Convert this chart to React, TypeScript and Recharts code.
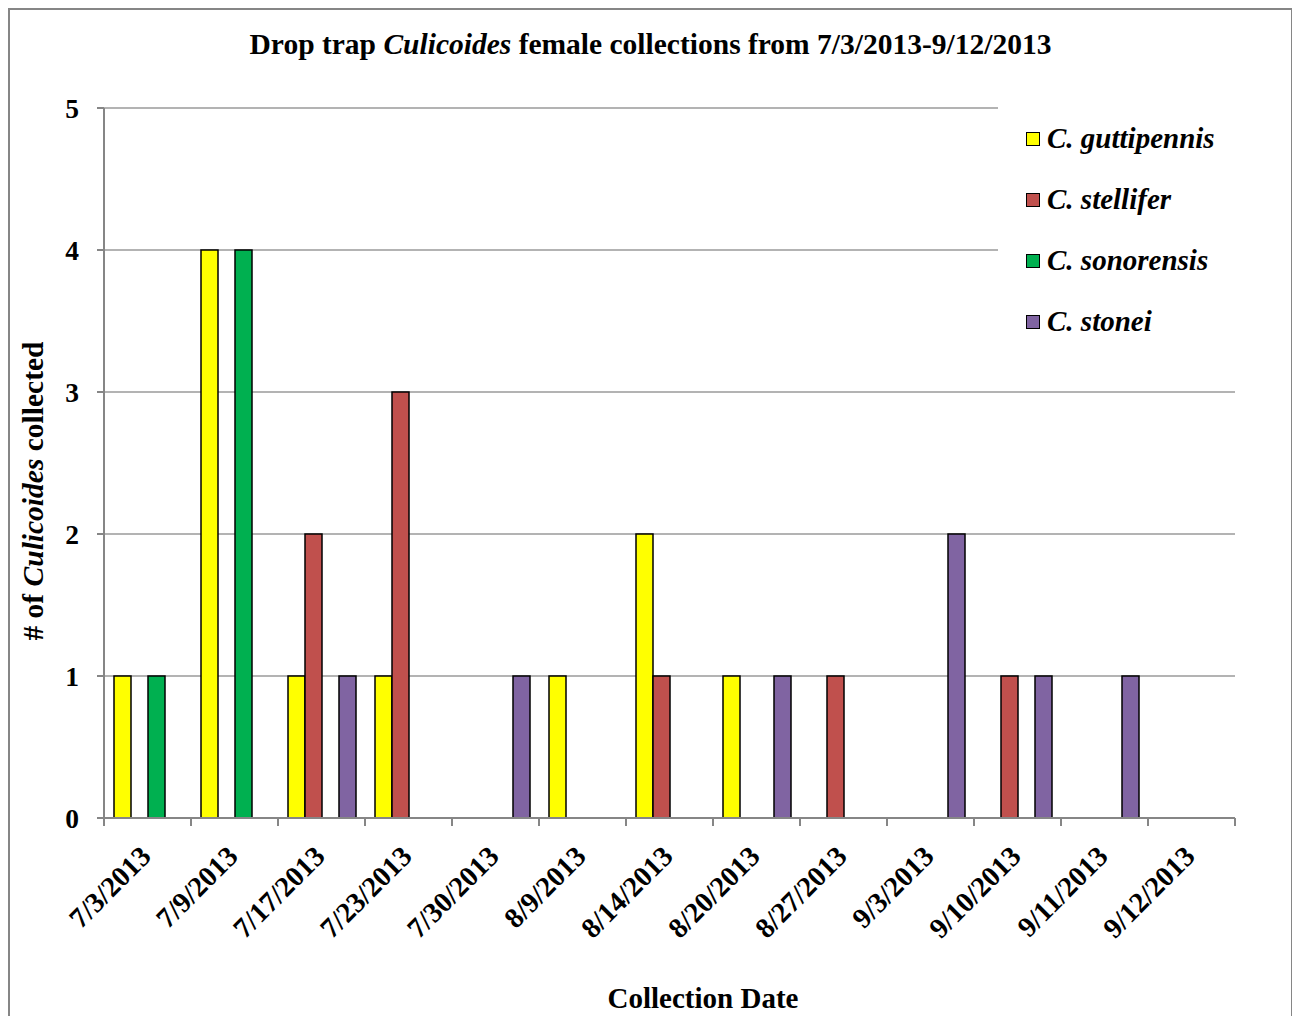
import { Bar, BarChart, CartesianGrid, XAxis, YAxis } from "recharts";

const DATES = [
  "7/3/2013",
  "7/9/2013",
  "7/17/2013",
  "7/23/2013",
  "7/30/2013",
  "8/9/2013",
  "8/14/2013",
  "8/20/2013",
  "8/27/2013",
  "9/3/2013",
  "9/10/2013",
  "9/11/2013",
  "9/12/2013",
];

const GUTTIPENNIS = [1, 4, 1, 1, 0, 1, 2, 1, 0, 0, 0, 0, 0];
const STELLIFER = [0, 0, 2, 3, 0, 0, 1, 0, 1, 0, 1, 0, 0];
const SONORENSIS = [1, 4, 0, 0, 0, 0, 0, 0, 0, 0, 0, 0, 0];
const STONEI = [0, 0, 1, 0, 1, 0, 0, 1, 0, 2, 1, 1, 0];

const Y_TICKS = [0, 1, 2, 3, 4, 5];

const SERIES = [
  { key: "guttipennis", name: "C. guttipennis", color: "#FFFF00" },
  { key: "stellifer", name: "C. stellifer", color: "#C0504D" },
  { key: "sonorensis", name: "C. sonorensis", color: "#00B050" },
  { key: "stonei", name: "C. stonei", color: "#8064A2" },
];

const rows = DATES.map((date, i) => ({
  date,
  guttipennis: GUTTIPENNIS[i],
  stellifer: STELLIFER[i],
  sonorensis: SONORENSIS[i],
  stonei: STONEI[i],
}));

const FONT = '"Liberation Serif", "Times New Roman", serif';
const AXIS = "#868686";
const GRID = "#9a9a9a";

const W = 1281;
const H = 1000;
const MARGIN = { top: 98, right: 56, bottom: 72, left: 34 };
const Y_AXIS_W = 60;
const X_AXIS_H = 120;
const PLOT_W = W - MARGIN.left - MARGIN.right - Y_AXIS_W;
const BAND = PLOT_W / DATES.length;

// tick marks sit on the category boundaries, labels hang off the centre
function DateTick(props: any) {
  const { x, y, payload, index } = props;
  const half = BAND / 2;
  const lx = x + 5;
  const ly = y + 40;
  return (
    <g>
      <line x1={x - half} y1={y} x2={x - half} y2={y + 8} stroke={AXIS} strokeWidth={2} />
      {index === DATES.length - 1 && (
        <line x1={x + half} y1={y} x2={x + half} y2={y + 8} stroke={AXIS} strokeWidth={2} />
      )}
      <text
        x={lx}
        y={ly}
        textAnchor="end"
        transform={`rotate(-45, ${lx}, ${ly})`}
        fontFamily={FONT}
        fontWeight="bold"
        fontSize={28.5}
        fill="#000"
      >
        {payload.value}
      </text>
    </g>
  );
}

function LegendBox() {
  return (
    <div
      style={{
        position: "absolute",
        left: 988,
        top: 90,
        width: 239,
        height: 265,
        background: "#fff",
        paddingTop: 8,
        boxSizing: "border-box",
      }}
    >
      {SERIES.map((s) => (
        <div
          key={s.key}
          style={{
            display: "flex",
            alignItems: "center",
            height: 61,
            lineHeight: "61px",
            paddingLeft: 28,
          }}
        >
          <span
            style={{
              display: "inline-block",
              width: 12,
              height: 12,
              background: s.color,
              border: "1.5px solid #000",
              marginRight: 7,
            }}
          />
          <span
            style={{
              fontFamily: FONT,
              fontWeight: "bold",
              fontStyle: "italic",
              fontSize: 29,
              color: "#000",
            }}
          >
            {s.name}
          </span>
        </div>
      ))}
    </div>
  );
}

export default function App() {
  return (
    <div style={{ width: 1285, height: 1008, overflow: "hidden" }}>
      <div
        style={{
          position: "relative",
          width: 1285,
          height: 1030,
          border: `2px solid ${AXIS}`,
          boxSizing: "border-box",
          background: "#fff",
          fontFamily: FONT,
        }}
      >
        <div
          style={{
            position: "absolute",
            left: 0,
            top: 20,
            width: 1281,
            textAlign: "center",
            fontSize: 29.5,
            fontWeight: "bold",
            lineHeight: 1,
            whiteSpace: "nowrap",
          }}
        >
          Drop trap <i>Culicoides</i> female collections from 7/3/2013-9/12/2013
        </div>

        <BarChart width={W} height={H} data={rows} margin={MARGIN} barGap={0}>
          <CartesianGrid vertical={false} stroke={GRID} strokeWidth={1.5} />
          <XAxis
            dataKey="date"
            height={X_AXIS_H}
            interval={0}
            tickSize={0}
            tickMargin={0}
            tickLine={false}
            axisLine={{ stroke: AXIS, strokeWidth: 2 }}
            tick={<DateTick />}
          />
          <YAxis
            width={Y_AXIS_W}
            domain={[0, 5]}
            ticks={Y_TICKS}
            interval={0}
            tickSize={7}
            tickMargin={18}
            axisLine={{ stroke: AXIS, strokeWidth: 2 }}
            tickLine={{ stroke: AXIS, strokeWidth: 2 }}
            tick={{ fontFamily: FONT, fontWeight: "bold", fontSize: 27.5, fill: "#000" }}
          />
          {SERIES.map((s) => (
            <Bar
              key={s.key}
              dataKey={s.key}
              name={s.name}
              fill={s.color}
              stroke="#000"
              strokeWidth={1.5}
              barSize={17}
              isAnimationActive={false}
            />
          ))}
        </BarChart>

        <LegendBox />

        <div
          style={{
            position: "absolute",
            left: 24,
            top: 481,
            transform: "translate(-50%, -50%) rotate(-90deg)",
            fontSize: 29.5,
            fontWeight: "bold",
            lineHeight: 1,
            whiteSpace: "nowrap",
          }}
        >
          # of <i>Culicoides</i> collected
        </div>

        <div
          style={{
            position: "absolute",
            left: 0,
            top: 973.7,
            width: 1386,
            textAlign: "center",
            fontSize: 29,
            fontWeight: "bold",
            lineHeight: 1,
            whiteSpace: "nowrap",
          }}
        >
          Collection Date
        </div>
      </div>
    </div>
  );
}
